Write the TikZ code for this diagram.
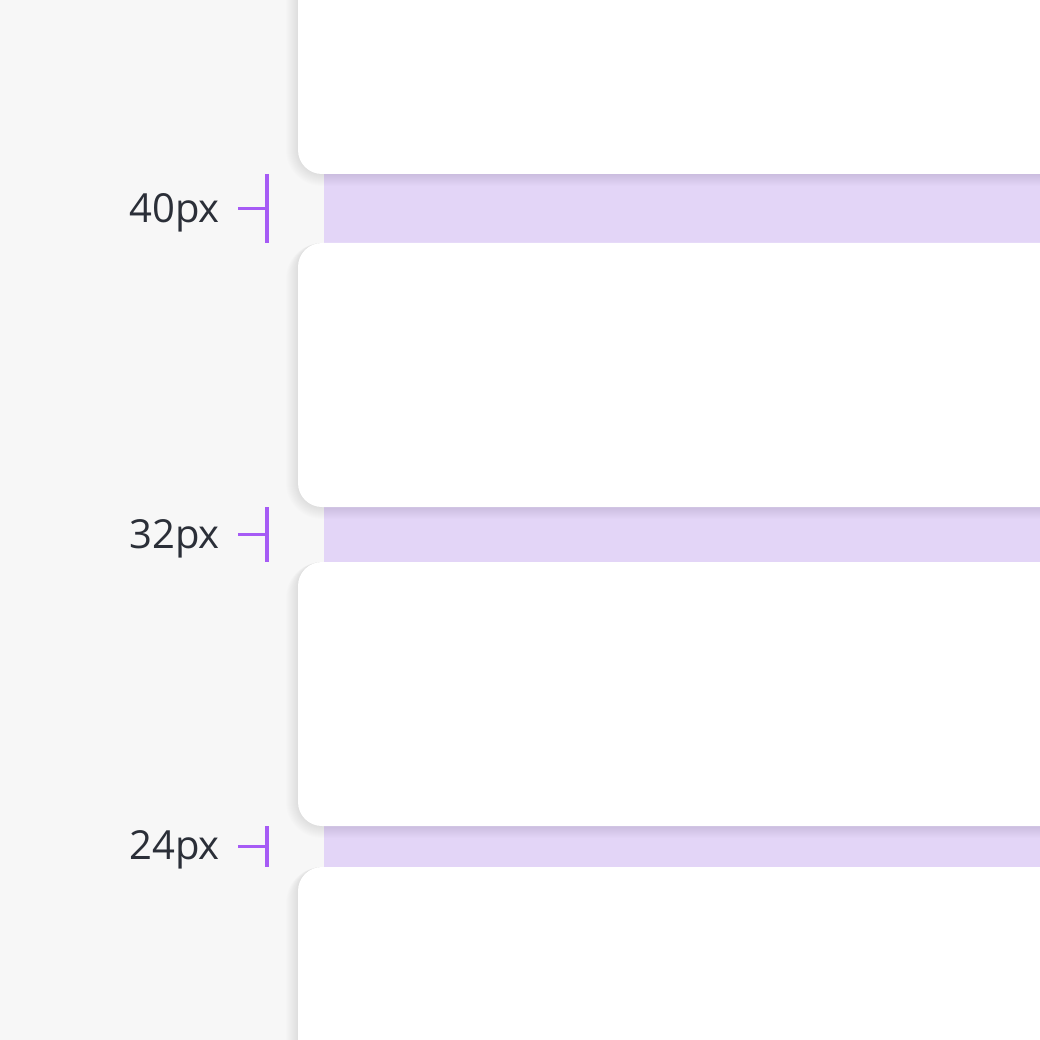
\documentclass[tikz,border=0pt]{standalone}
\usepackage{fontspec}
\setmainfont{Open Sans}
\usetikzlibrary{positioning}
\definecolor{canvas}{HTML}{F7F7F7}
\definecolor{gapfill}{HTML}{E3D5F7}
\definecolor{mark}{HTML}{A65BF5}
\definecolor{ink}{HTML}{2B2F38}
\tikzstyle{card} = [rectangle, rounded corners=24pt, fill=white, minimum width=822pt, inner sep=0pt, outer sep=0pt]
\tikzstyle{gap} = [rectangle, fill=gapfill, minimum width=796pt, inner sep=0pt, outer sep=0pt]
\tikzstyle{tag} = [anchor=base east, text=ink, font=\fontsize{40}{42}\selectfont, inner sep=0pt]
\tikzstyle{bracket} = [draw=mark, line width=3.2pt]

\begin{document}
\begin{tikzpicture}[x=1pt, y=-1pt]
\useasboundingbox (0,0) rectangle (1040,1040);
\fill[canvas] (0,0) rectangle (1040,1040);
\clip (0,0) rectangle (1040,1040);
% spacing bands
\node (gap1) [gap, minimum height=69pt] at (722,208.5) {};
\node (gap2) [gap, minimum height=55pt] at (722,534.5) {};
\node (gap3) [gap, minimum height=41pt] at (722,846.5) {};
% soft shadows under the cards
\foreach \yt/\yb in {-40/174, 243/507, 562/826, 867/1100} {
  \foreach \s in {1,...,12} {
    \fill[black, opacity=0.009, rounded corners=24pt+\s pt]
      (298-\s, \yt) rectangle (1120, \yb+\s);
  }
}
% cards
\node (card1) [card, minimum height=214pt] at (709,67) {};
\node (card2) [card, minimum height=264pt] at (709,375) {};
\node (card3) [card, minimum height=264pt] at (709,694) {};
\node (card4) [card, minimum height=233pt] at (709,983.5) {};
% labels
\node (lab1) [tag] at ([xshift=-104pt, yshift=-14pt]gap1.west) {40px};
\node (lab2) [tag] at ([xshift=-104pt, yshift=-14pt]gap2.west) {32px};
\node (lab3) [tag] at ([xshift=-104pt, yshift=-13pt]gap3.west) {24px};
% brackets
\draw [bracket] ([xshift=-57pt]gap1.north west) -- ([xshift=-57pt]gap1.south west);
\draw [bracket] ([xshift=-86pt]gap1.west) -- ([xshift=-57pt]gap1.west);
\draw [bracket] ([xshift=-57pt]gap2.north west) -- ([xshift=-57pt]gap2.south west);
\draw [bracket] ([xshift=-86pt]gap2.west) -- ([xshift=-57pt]gap2.west);
\draw [bracket] ([xshift=-57pt]gap3.north west) -- ([xshift=-57pt]gap3.south west);
\draw [bracket] ([xshift=-86pt]gap3.west) -- ([xshift=-57pt]gap3.west);
\end{tikzpicture}
\end{document}
